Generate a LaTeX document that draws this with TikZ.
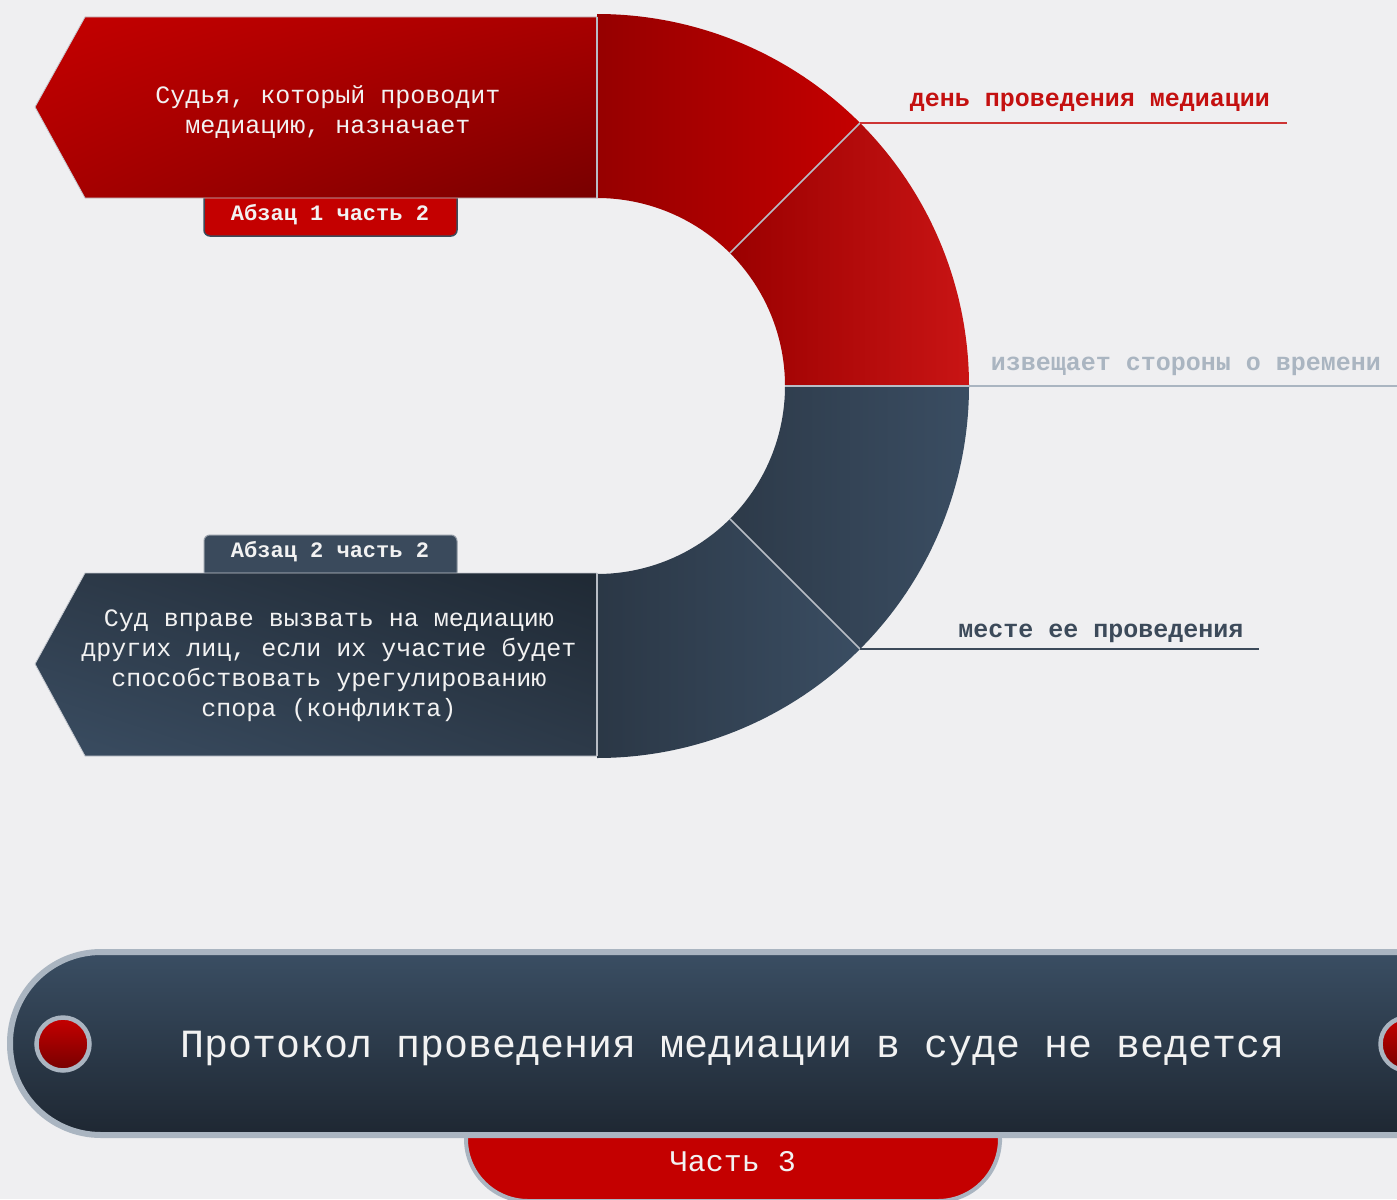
\documentclass[tikz,border=0pt]{standalone}
\usepackage{fontspec}
\newfontfamily\mono{Liberation Mono}
\usetikzlibrary{calc,shadings}
\definecolor{bg}{HTML}{EFEFF1}
\definecolor{redbr}{HTML}{C40000}
\definecolor{redmd}{HTML}{A80000}
\definecolor{reddk}{HTML}{780000}
\definecolor{segrdL}{HTML}{960000}
\definecolor{segrdR}{HTML}{C40000}
\definecolor{bluedk}{HTML}{1F2934}
\definecolor{bluemd}{HTML}{2D3A49}
\definecolor{bluelt}{HTML}{3A4D62}
\definecolor{divgrey}{HTML}{B8BDC5}
\definecolor{linegrey}{HTML}{AAB5C1}
\definecolor{bluetxt}{HTML}{3C4A5A}
\definecolor{redtxt}{HTML}{C41010}
\definecolor{tabblue}{HTML}{3A4A5C}
\definecolor{bannertop}{HTML}{3A4E63}
\definecolor{bannerbot}{HTML}{1E2732}
\definecolor{whitetxt}{HTML}{F2F2F2}
\tikzset{
  divline/.style={draw=divgrey, line width=1.5pt},
  boxtext/.style={text=whitetxt, align=center, font=\mono\fontsize{25}{30}\selectfont},
  lbltext/.style={anchor=base, font=\mono\bfseries\fontsize{25}{30}\selectfont},
  tabtext/.style={anchor=base, text=whitetxt, font=\mono\bfseries\fontsize{22}{26}\selectfont},
  leader/.style={line width=2pt},
  greyring/.style={draw=linegrey, line width=5pt}
}
\begin{document}
\begin{tikzpicture}[x=1pt,y=-1pt]
\useasboundingbox (0,0) rectangle (1397,1199);
\clip (0,0) rectangle (1397,1199);
\fill[bg] (0,0) rectangle (1397,1199);
\coordinate (C) at (597,386);
\def\ro{372}
\def\ri{188}
% ring segments
\shade[left color=segrdL, right color=segrdR]
  ($(C)+(-90:\ro)$) arc[start angle=-90,end angle=-45,radius=\ro]
  -- ($(C)+(-45:\ri)$) arc[start angle=-45,end angle=-90,radius=\ri] -- cycle;
\shade[left color=redmd!92!black, right color=redbr!92!white]
  ($(C)+(-45:\ro)$) arc[start angle=-45,end angle=0,radius=\ro]
  -- ($(C)+(0:\ri)$) arc[start angle=0,end angle=-45,radius=\ri] -- cycle;
\shade[left color=bluemd, right color=bluelt]
  ($(C)+(0:\ro)$) arc[start angle=0,end angle=45,radius=\ro]
  -- ($(C)+(45:\ri)$) arc[start angle=45,end angle=0,radius=\ri] -- cycle;
\shade[left color=bluemd!85!bluedk, right color=bluelt]
  ($(C)+(45:\ro)$) arc[start angle=45,end angle=90,radius=\ro]
  -- ($(C)+(90:\ri)$) arc[start angle=90,end angle=45,radius=\ri] -- cycle;
% divider coordinates
\coordinate (d1i) at ($(C)+(-45:\ri)$);
\coordinate (d1o) at ($(C)+(-45:\ro)$);
\coordinate (d2i) at ($(C)+(0:\ri)$);
\coordinate (d2o) at ($(C)+(0:\ro)$);
\coordinate (d3i) at ($(C)+(45:\ri)$);
\coordinate (d3o) at ($(C)+(45:\ro)$);
\draw[divline] (d1i) -- (d1o);
\draw[divline] (d2i) -- (d2o);
\draw[divline] (d3i) -- (d3o);
% tabs
\draw[fill=redbr, draw=bluetxt, line width=1.5pt, rounded corners=6pt]
  (204,185) -- (204,236) -- (457,236) -- (457,185) -- cycle;
\node[tabtext] (tab1) at (330,220) {Абзац 1 часть 2};
\draw[fill=tabblue, draw=divgrey!70!tabblue, line width=1pt, rounded corners=6pt]
  (204,585) -- (204,535) -- (457,535) -- (457,585) -- cycle;
\node[tabtext] (tab2) at (330,557) {Абзац 2 часть 2};
% left boxes
\shade[upper left=redbr, upper right=redmd, lower left=redmd, lower right=reddk]
  (85,17) -- (597,17) -- (597,198) -- (85,198) -- (35,107) -- cycle;
\draw[draw=divgrey!80!white, line width=0.8pt] (597,198) -- (85,198) -- (35,107) -- (85,17) -- (597,17);
\shade[upper left=bluemd, upper right=bluedk, lower left=bluelt, lower right=bluemd]
  (85,573) -- (597,573) -- (597,756) -- (85,756) -- (35,664) -- cycle;
\draw[draw=divgrey!80!white, line width=0.8pt] (597,756) -- (85,756) -- (35,664) -- (85,573) -- (597,573);
\draw[divline] (597,17) -- (597,198);
\draw[divline] (597,573) -- (597,756);
\node[boxtext] (b1) at (328,112) {Судья, который проводит\\медиацию, назначает};
\node[boxtext] (b2) at (329,666) {Суд вправе вызвать на медиацию\\других лиц, если их участие будет\\способствовать урегулированию\\спора (конфликта)};
% labels and leaders
\node[lbltext, text=redtxt] (l1) at (1090,106) {день проведения медиации};
\coordinate (l1e) at (1287,124);
\draw[leader, draw=redtxt!85!white] (d1o) -- (d1o -| l1e);
\node[lbltext, text=linegrey] (l2) at (1186,370) {извещает стороны о времени};
\coordinate (l2e) at (1397,385);
\draw[leader, draw=linegrey] (d2o) -- (d2o -| l2e);
\node[lbltext, text=bluetxt] (l3) at (1101,637) {месте ее проведения};
\coordinate (l3e) at (1259,647);
\draw[leader, draw=bluetxt] (d3o) -- (d3o -| l3e);
% bottom tab
\draw[fill=redbr, draw=linegrey, line width=4pt, rounded corners=62pt]
  (466,1080) rectangle (1000,1201);
\node[anchor=base, text=whitetxt, font=\mono\fontsize{30}{34}\selectfont] (part3) at (733,1171) {Часть 3};
% banner
\shade[top color=bannertop, bottom color=bannerbot, rounded corners=91pt]
  (10,952) rectangle (1500,1135);
\draw[draw=linegrey, line width=6pt, rounded corners=91pt]
  (10,952) rectangle (1500,1135);
\node[anchor=base, text=whitetxt, font=\mono\fontsize{40}{46}\selectfont] (main) at (733,1057) {Протокол проведения медиации в суде не ведется};
% circles
\shade[top color=redbr, bottom color=reddk] (63,1044) circle[radius=25];
\draw[greyring, line width=4.5pt] (63,1044) circle[radius=26.5] node (c1) {};
\shade[top color=redbr, bottom color=reddk] (1407,1044) circle[radius=25];
\draw[greyring, line width=4.5pt] (1407,1044) circle[radius=26.5] node (c2) {};
\end{tikzpicture}
\end{document}
